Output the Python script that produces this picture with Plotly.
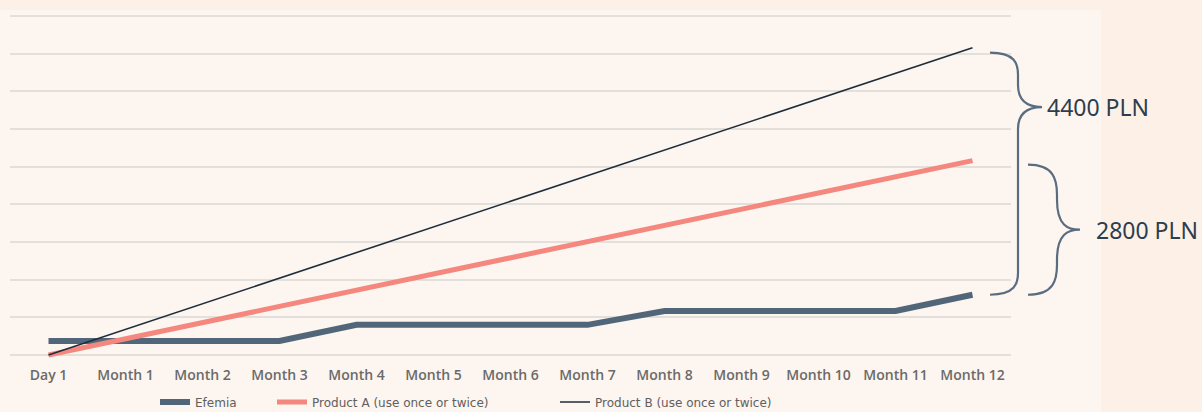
import plotly.graph_objects as go

categories = ["Day 1", "Month 1", "Month 2", "Month 3", "Month 4", "Month 5", "Month 6",
              "Month 7", "Month 8", "Month 9", "Month 10", "Month 11", "Month 12"]
efemia = [185, 185, 185, 185, 400, 400, 400, 400, 585, 585, 585, 585, 800]
product_a = [0, 215, 430, 645, 860, 1075, 1290, 1505, 1720, 1935, 2150, 2365, 2580]
product_b = [0, 340, 680, 1020, 1360, 1700, 2040, 2380, 2720, 3060, 3400, 3740, 4080]
labels = ["4400 PLN", "2800 PLN"]

BG = "#fdf5ef"
OUTER = "#fdf0e7"
fig = go.Figure()
fig.add_trace(go.Scatter(x=categories, y=efemia, name="Efemia", mode="lines", legend="legend",
                         line=dict(color="#52667a", width=6)))
fig.add_trace(go.Scatter(x=categories, y=product_a, name="Product A (use once or twice)", mode="lines",
                         legend="legend2", line=dict(color="#f4877e", width=5)))
fig.add_trace(go.Scatter(x=categories, y=product_b, name="Product B (use once or twice)", mode="lines",
                         legend="legend3", line=dict(color="#1e2d3b", width=1.6)))

W, H = 1202, 412
L, R = 10, 191
TOPPX, BOTPX = 16, 355
pw = W - L - R
YMAX = 4500
upp = YMAX / (BOTPX - TOPPX)  # data units per pixel
PAD = 4  # px of padding so edge gridlines are drawn
ph = BOTPX - TOPPX + 2 * PAD


def px(x):
    return (x - L) / pw


def py(y):
    return -(y - (BOTPX + PAD)) / ph


def brace(x0, xv, xt, ytop, ybot, ytip, r=18):
    ry = r * upp
    tip = 10 * upp
    p = (f"M {px(x0)},{ytop} C {px(xv - 3)},{ytop} {px(xv)},{ytop - ry * 0.5} {px(xv)},{ytop - ry} "
         f"L {px(xv)},{ytip + ry} C {px(xv)},{ytip + tip * 0.4} {px(xt - 12)},{ytip} {px(xt)},{ytip} "
         f"C {px(xt - 12)},{ytip} {px(xv)},{ytip - tip * 0.4} {px(xv)},{ytip - ry} "
         f"L {px(xv)},{ybot + ry} C {px(xv)},{ybot + ry * 0.5} {px(xv - 3)},{ybot} {px(x0)},{ybot}")
    return p


b_top = product_b[-1] - 5 * upp
b_bot = efemia[-1]
tip1 = b_top - 0.225 * (b_top - b_bot)
a_top = product_a[-1] - 4 * upp
tip2 = (a_top + b_bot) / 2

# lighter inner panel (the chart image) over slightly warmer page background
fig.add_shape(type="rect", xref="paper", yref="paper", x0=px(0), x1=px(1101),
              y0=-2, y1=1 + (TOPPX - PAD - 10) / ph,
              fillcolor=BG, line=dict(width=0), layer="below")

fig.add_shape(type="path", xref="paper", yref="y",
              path=brace(990, 1018, 1042, b_top, b_bot, tip1, 22),
              line=dict(color="#5a6d80", width=2.2))
fig.add_shape(type="path", xref="paper", yref="y",
              path=brace(1028, 1057, 1080, a_top, b_bot, tip2, 30),
              line=dict(color="#5a6d80", width=2.2))

fig.add_annotation(xref="paper", yref="y", x=px(1045), y=tip1, text=labels[0], showarrow=False,
                   xanchor="left", yanchor="middle",
                   font=dict(family="Noto Sans", size=23, color="#2d3d4c"))
fig.add_annotation(xref="paper", yref="y", x=px(1094), y=tip2, text=labels[1], showarrow=False,
                   xanchor="left", yanchor="middle",
                   font=dict(family="Noto Sans", size=23, color="#2d3d4c"))

leg_common = dict(orientation="h", yanchor="middle", y=py(402),
                  font=dict(family="DejaVu Sans", size=12, color="#606060"),
                  bgcolor="rgba(0,0,0,0)", itemwidth=30, tracegroupgap=0, xanchor="left")

fig.update_layout(
    width=W, height=H,
    margin=dict(l=L, r=R, t=TOPPX - PAD, b=H - BOTPX - PAD, autoexpand=False),
    paper_bgcolor=OUTER, plot_bgcolor=BG,
    showlegend=True,
    legend=dict(leg_common, x=px(160 - 5)),
    legend2=dict(leg_common, x=px(277 - 5)),
    legend3=dict(leg_common, x=px(560 - 5)),
    xaxis=dict(type="category", range=[-0.5, 12.5], showgrid=False, zeroline=False,
               showline=False, ticks="outside", ticklen=3, tickcolor="rgba(0,0,0,0)",
               tickfont=dict(family="Open Sans", size=14, color="#6a6a6a", weight=600)),
    yaxis=dict(range=[-PAD * upp, YMAX + PAD * upp], dtick=500, showticklabels=False,
               gridcolor="#e3dfdb", gridwidth=1.5, zeroline=False, showline=False),
)

fig.write_html("out.html", config={"displayModeBar": False},
               post_script="document.body.style.margin='0';")
